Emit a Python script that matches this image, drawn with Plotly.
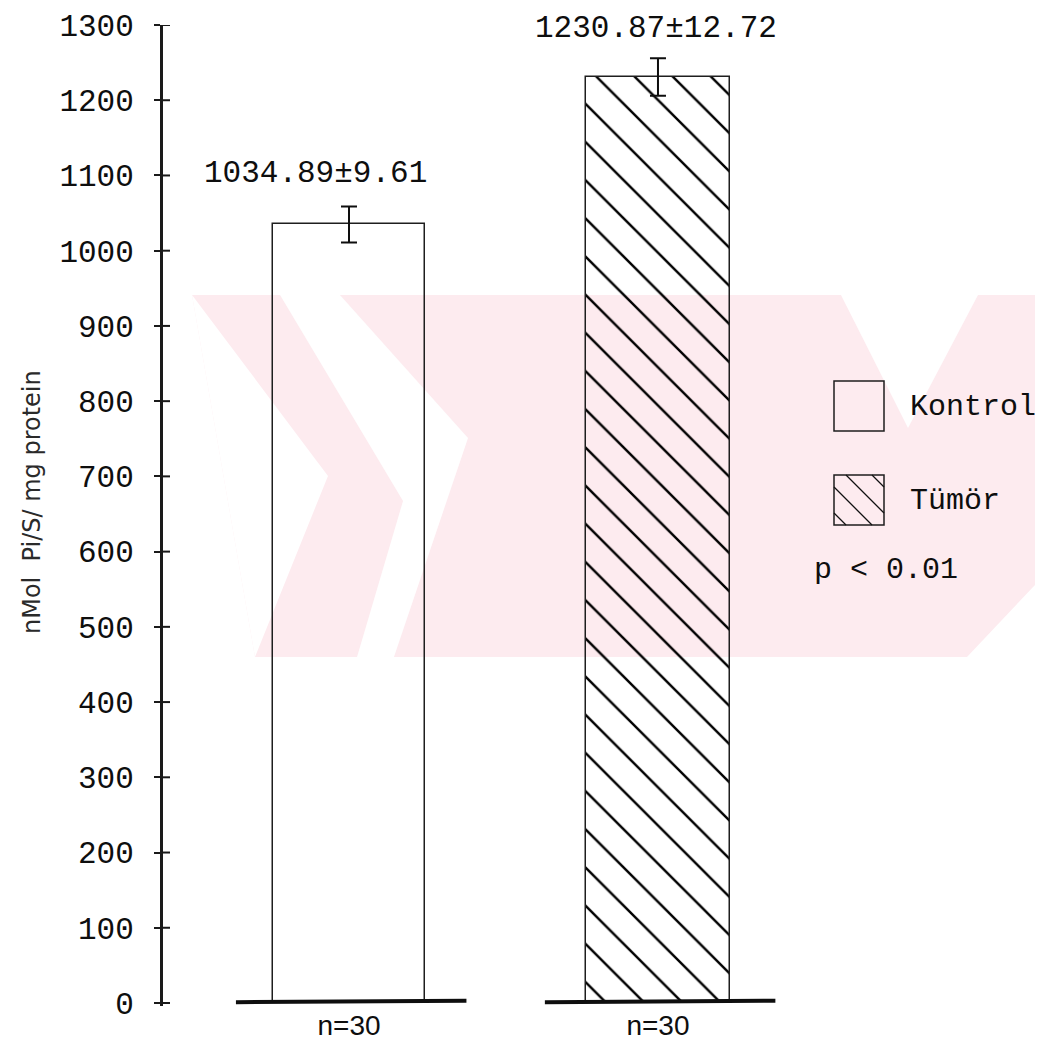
import plotly.graph_objects as go

# ---------------- data ----------------
categories = ["Kontrol", "Tümör"]
means = [1034.89, 1230.87]
sem_text = ["9.61", "12.72"]
err_drawn = [24, 25]          # error bar half-length as drawn in the figure
n_labels = ["n=30", "n=30"]
y_ticks = list(range(0, 1301, 100))
p_text = "p < 0.01"
y_title = "nMol  Pi/S/ mg protein"

# ---------------- geometry helpers ----------------
W, H = 1043, 1046
ML, MR, MT, MB = 155, 0, 17, 48
X_RANGE = [-0.602, 2.272]
Y_RANGE = [-4, 1300]
plot_w = W - ML - MR
plot_h = H - MT - MB


def px_x(px):
    return X_RANGE[0] + (px - ML) / plot_w * (X_RANGE[1] - X_RANGE[0])


def px_y(py):
    return Y_RANGE[0] + (H - MB - py) / plot_h * (Y_RANGE[1] - Y_RANGE[0])


def pap_x(px):
    return (px - ML) / plot_w


def pap_y(py):
    return (H - MB - py) / plot_h


MONO = "Liberation Mono"
INK = "#0e0e0e"
PINK = "#fdebef"

xpos = list(range(len(categories)))
bar_w = [0.495, 0.466]

fig = go.Figure()

fig.add_trace(go.Bar(
    x=xpos, y=means, width=bar_w,
    marker=dict(color="rgba(0,0,0,0)",
                line=dict(color="#1e1e1e", width=1.5),
                pattern=dict(shape=["", "\\"], fgcolor="#000000", fgopacity=1,
                             bgcolor="rgba(0,0,0,0)", size=27, solidity=0.09)),
    error_y=dict(type="data", array=err_drawn, color=INK, thickness=2, width=8),
    showlegend=False, hoverinfo="skip"))

shapes = []

# ---- watermark (pale pink) ----
def poly(pts, color):
    d = "M " + " L ".join(f"{pap_x(a):.4f},{pap_y(b):.4f}" for a, b in pts) + " Z"
    return dict(type="path", path=d, xref="paper", yref="paper", layer="below",
                fillcolor=color, line=dict(width=0))

shapes.append(poly([(184, 287), (1043, 287), (1043, 649), (247, 649)], PINK))
shapes.append(poly([(184, 287), (320, 468), (247, 649)], "white"))
shapes.append(poly([(272, 287), (332, 287), (460, 430), (386, 649), (349, 649), (395, 493)], "white"))
shapes.append(poly([(833, 287), (970, 287), (900, 420)], "white"))
shapes.append(poly([(959, 649), (1043, 649), (1043, 560)], "white"))

# ---- inner half of the crossing tick marks on the y axis ----
for v in y_ticks:
    shapes.append(dict(type="line", xref="paper", yref="y",
                       x0=pap_x(155), x1=pap_x(162), y0=v, y1=v,
                       line=dict(color="#1a1a1a", width=2), layer="above"))

# ---- thick baselines under each bar ----
for c in xpos:
    shapes.append(dict(type="line", xref="x", yref="y",
                       x0=c - 0.366, x1=c + 0.38, y0=1, y1=3,
                       line=dict(color=INK, width=4), layer="above"))

# ---- legend swatches ----
sw_x0, sw_x1 = 826, 876
sw_rows = [(373, 423), (467, 517)]
for (y0, y1) in sw_rows:
    shapes.append(dict(type="rect", xref="x", yref="y",
                       x0=px_x(sw_x0), x1=px_x(sw_x1), y0=px_y(y1), y1=px_y(y0),
                       line=dict(color="#1e1e1e", width=1.5),
                       fillcolor="rgba(0,0,0,0)", layer="above"))
# hatch lines in the second swatch (x - y = c in local pixels)
ty0, ty1 = sw_rows[1]
side = sw_x1 - sw_x0
for c in (-38, -12, 12, 38):
    pts = []
    for yy in (0, side):
        xx = yy + c
        if 0 <= xx <= side:
            pts.append((xx, yy))
    for xx in (0, side):
        yy = xx - c
        if 0 <= yy <= side:
            pts.append((xx, yy))
    pts = sorted(set(pts))
    if len(pts) >= 2:
        (ax, ay), (bx, by) = pts[0], pts[-1]
        shapes.append(dict(type="line", xref="x", yref="y",
                           x0=px_x(sw_x0 + ax), y0=px_y(ty0 + ay),
                           x1=px_x(sw_x0 + bx), y1=px_y(ty0 + by),
                           line=dict(color="#111111", width=1.3), layer="above"))

annotations = []
# value labels
lab_pos = [(307, 165), (648, 20)]
for i, (lx, ly) in enumerate(lab_pos):
    annotations.append(dict(x=px_x(lx), y=px_y(ly), xref="x", yref="y",
                            text=f"{means[i]:.2f}±{sem_text[i]}", showarrow=False,
                            xanchor="center", yanchor="middle",
                            font=dict(family=MONO, size=31, color=INK)))
# legend texts
for i, (y0, y1) in enumerate(sw_rows):
    annotations.append(dict(x=px_x(900), y=px_y((y0 + y1) / 2 + 1), xref="x", yref="y",
                            text=categories[i], showarrow=False,
                            xanchor="left", yanchor="middle",
                            font=dict(family=MONO, size=30, color=INK)))
annotations.append(dict(x=px_x(804), y=px_y(562), xref="x", yref="y",
                        text=p_text, showarrow=False, xanchor="left", yanchor="middle",
                        font=dict(family=MONO, size=30, color=INK)))
# y-axis title
annotations.append(dict(x=pap_x(24), y=pap_y(494), xref="paper", yref="paper",
                        text=y_title, textangle=-90, showarrow=False,
                        xanchor="center", yanchor="middle",
                        font=dict(family="DejaVu Sans", size=24, color="#2a2a2a")))

fig.update_layout(
    width=W, height=H,
    margin=dict(l=ML, r=MR, t=MT, b=MB, pad=0),
    paper_bgcolor="white", plot_bgcolor="rgba(0,0,0,0)",
    shapes=shapes, annotations=annotations,
    xaxis=dict(range=X_RANGE, tickvals=xpos, ticktext=n_labels,
               showline=False, showgrid=False, zeroline=False, ticks="",
               tickfont=dict(family="Liberation Sans", size=28, color=INK),
               ticklabelstandoff=0),
    yaxis=dict(range=Y_RANGE, tickvals=y_ticks, ticktext=[str(v) for v in y_ticks],
               showline=True, linecolor="#1a1a1a", linewidth=3,
               ticks="outside", ticklen=6, tickwidth=2, tickcolor="#1a1a1a",
               showgrid=False, zeroline=False,
               tickfont=dict(family=MONO, size=31, color=INK),
               ticklabelstandoff=14),
    bargap=0,
)

fig.write_html("out.html")
